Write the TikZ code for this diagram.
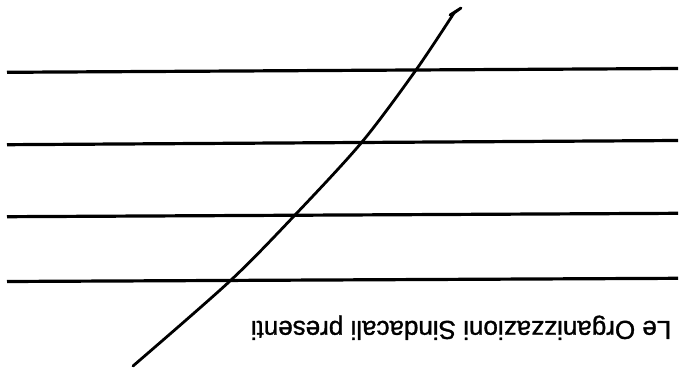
\documentclass[tikz,border=0pt]{standalone}
\usepackage{fontspec}
\setmainfont{Liberation Sans}
\newfontfamily\capfont[FakeBold=1.2]{Liberation Sans}
\begin{document}
\begin{tikzpicture}[x=1pt,y=-1pt,
  rule/.style={line width=3.2pt},
  pen/.style={line width=2.8pt,line cap=round,line join=round}]
\useasboundingbox (0,0) rectangle (680,369);
% horizontal rules
\coordinate (l1a) at (7,72.3);  \coordinate (l1b) at (678,68.5);
\coordinate (l2a) at (7,144.7); \coordinate (l2b) at (678,140.5);
\coordinate (l3a) at (7,216.7); \coordinate (l3b) at (678,213.3);
\coordinate (l4a) at (7,281.5); \coordinate (l4b) at (678,278.3);
\draw[rule] (l1a) -- (l1b);
\draw[rule] (l2a) -- (l2b);
\draw[rule] (l3a) -- (l3b);
\draw[rule] (l4a) -- (l4b);
% pen stroke
\coordinate (s5) at (454,13);
\coordinate (tip) at (461,8);
\coordinate (barb) at (450,15);
\draw[pen] plot[smooth,tension=0.5] coordinates {(133,366) (230,281) (295,215) (362,142) (416,70) (454,13)};
\draw[pen] (s5) -- (tip) -- (barb);
% upside-down caption
\node[rotate=180,anchor=base,inner sep=0pt,font=\capfont\fontsize{26}{30}\selectfont] (cap) at (461,321) {Le Organizzazioni Sindacali presenti};
\end{tikzpicture}
\end{document}
